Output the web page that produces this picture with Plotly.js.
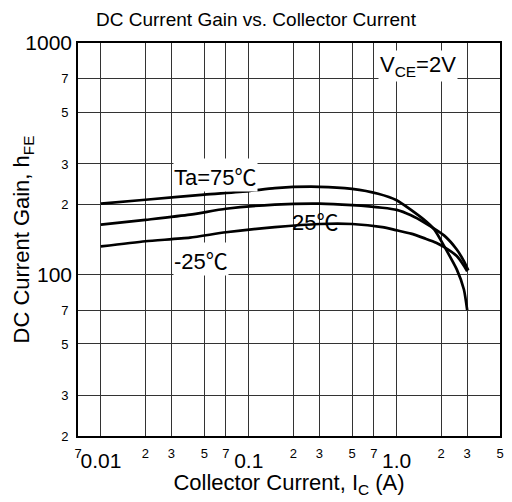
<!DOCTYPE html>
<html><head><meta charset="utf-8">
<script src="https://cdn.plot.ly/plotly-3.0.1.min.js"></script>
<style>html,body{margin:0;padding:0;background:#fff}#chart{width:512px;height:502px}</style>
</head><body><div id="chart"></div>
<script>
const FONT = 'Liberation Sans, Arial, Helvetica, Noto Sans CJK JP, sans-serif';
const CJK = 'Noto Sans CJK JP';

// Collector current (A) and DC current gain hFE
const current75 = [0.01, 0.02, 0.05, 0.1, 0.15, 0.3, 0.5, 0.75, 1.0, 1.5, 1.8, 2.1, 2.55, 2.85, 3.0];
const gain75    = [202, 210, 221, 229, 236, 239, 234, 223, 209, 174, 156, 132, 105, 86, 70];

const current25 = [0.01, 0.02, 0.04, 0.07, 0.15, 0.3, 0.5, 0.8, 1.0, 1.25, 1.55, 2.1, 2.55, 2.85, 3.05];
const gain25    = [164, 172, 181, 192, 200, 202, 199, 194, 190, 180, 167, 147, 128, 114, 104];

const currentM25 = [0.01, 0.02, 0.04, 0.07, 0.15, 0.3, 0.5, 0.8, 1.0, 1.25, 1.55, 1.85, 2.1, 2.55, 2.85, 3.0];
const gainM25    = [132, 139, 144, 152, 160, 165, 165, 160, 155, 150, 143, 137, 131, 120, 109, 103];

// Axis ticks
const xMinorVals = [0.007, 0.02, 0.03, 0.05, 0.07, 0.2, 0.3, 0.5, 0.7, 2, 3, 5];
const xMinorText = ['7', '2', '3', '5', '7', '2', '3', '5', '7', '2', '3', '5'];
const xMajorVals = [0.01, 0.1, 1];
const xMajorText = ['0.01', '0.1', '1.0'];
const yMinorVals = [20, 30, 50, 70, 200, 300, 500, 700];
const yMinorText = ['2', '3', '5', '7', '2', '3', '5', '7'];
const yMajorVals = [100, 1000];
const yMajorText = ['100', '1000'];

const xRange = [Math.log10(0.007), Math.log10(5)];
const yRange = [Math.log10(20), 3];

const lineStyle = {color: '#000', width: 2.7, shape: 'spline', smoothing: 0.6};
const traces = [
  {x: current75, y: gain75, mode: 'lines', line: lineStyle, hoverinfo: 'skip', showlegend: false},
  {x: current25, y: gain25, mode: 'lines', line: lineStyle, hoverinfo: 'skip', showlegend: false},
  {x: currentM25, y: gainM25, mode: 'lines', line: lineStyle, hoverinfo: 'skip', showlegend: false},
  {x: [], y: [], xaxis: 'x2', yaxis: 'y', showlegend: false, hoverinfo: 'skip'},
  {x: [], y: [], xaxis: 'x', yaxis: 'y2', showlegend: false, hoverinfo: 'skip'}
];

const deg = '<span style="font-family:' + CJK + '">℃</span>';
const gridCol = '#333';
const layout = {
  width: 512, height: 502,
  margin: {l: 78, r: 12, t: 43, b: 66},
  paper_bgcolor: '#fff', plot_bgcolor: '#fff',
  font: {family: FONT, color: '#000'},
  title: {text: 'DC Current Gain vs. Collector Current', font: {size: 19, family: FONT, color: '#000'},
          x: 0.5, xanchor: 'center', xref: 'container', y: 1 - 19/502, yanchor: 'middle', yref: 'container'},
  xaxis: {type: 'log', range: xRange, tickvals: xMinorVals, ticktext: xMinorText,
          tickfont: {size: 13, family: FONT, color: '#000'}, ticks: '', ticklabelstandoff: 4,
          showgrid: true, gridcolor: gridCol, gridwidth: 1, zeroline: false,
          showline: true, linecolor: '#000', linewidth: 2, mirror: true, automargin: false,
          title: {text: 'Collector Current, I<sub>C</sub> (A)', font: {size: 22, family: FONT, color: '#000'}, standoff: 15}},
  xaxis2: {type: 'log', range: xRange, overlaying: 'x', anchor: 'y', side: 'bottom',
           tickvals: xMajorVals, ticktext: xMajorText, tickfont: {size: 21, family: FONT, color: '#000'},
           ticks: '', ticklabelstandoff: 10, showgrid: true, gridcolor: gridCol, gridwidth: 1,
           zeroline: false, showline: false, automargin: false},
  yaxis: {type: 'log', range: yRange, tickvals: yMinorVals, ticktext: yMinorText,
          tickfont: {size: 13, family: FONT, color: '#000'}, ticks: '', ticklabelstandoff: 5,
          showgrid: true, gridcolor: gridCol, gridwidth: 1, zeroline: false,
          showline: true, linecolor: '#000', linewidth: 2, mirror: true, automargin: false,
          title: {text: 'DC Current Gain, h<sub>FE</sub>', font: {size: 22, family: FONT, color: '#000'}, standoff: 25}},
  yaxis2: {type: 'log', range: yRange, overlaying: 'y', anchor: 'x', side: 'left',
           tickvals: yMajorVals, ticktext: yMajorText, tickfont: {size: 21, family: FONT, color: '#000'},
           ticks: '', ticklabelstandoff: 5, showgrid: true, gridcolor: gridCol, gridwidth: 1,
           zeroline: false, showline: false, automargin: false},
  annotations: [
    {x: Math.log10(0.0591), y: Math.log10(268.7), xref: 'x', yref: 'y', text: 'Ta=75' + deg, showarrow: false,
     font: {size: 22, family: FONT, color: '#000'}, bgcolor: '#fff', borderpad: 0},
    {x: Math.log10(0.2805), y: Math.log10(171.7), xref: 'x', yref: 'y', text: '25' + deg, showarrow: false,
     font: {size: 22, family: FONT, color: '#000'}},
    {x: Math.log10(0.0475), y: Math.log10(116), xref: 'x', yref: 'y', text: '-25' + deg, showarrow: false,
     font: {size: 22, family: FONT, color: '#000'}, bgcolor: '#fff', borderpad: 0},
    {x: Math.log10(1.394), y: Math.log10(795), xref: 'x', yref: 'y', text: 'V<sub>CE</sub>=2V', showarrow: false,
     font: {size: 22, family: FONT, color: '#000'}, bgcolor: '#fff', borderpad: 1}
  ]
};

Plotly.newPlot('chart', traces, layout, {staticPlot: true, displayModeBar: false});
</script>
</body></html>
